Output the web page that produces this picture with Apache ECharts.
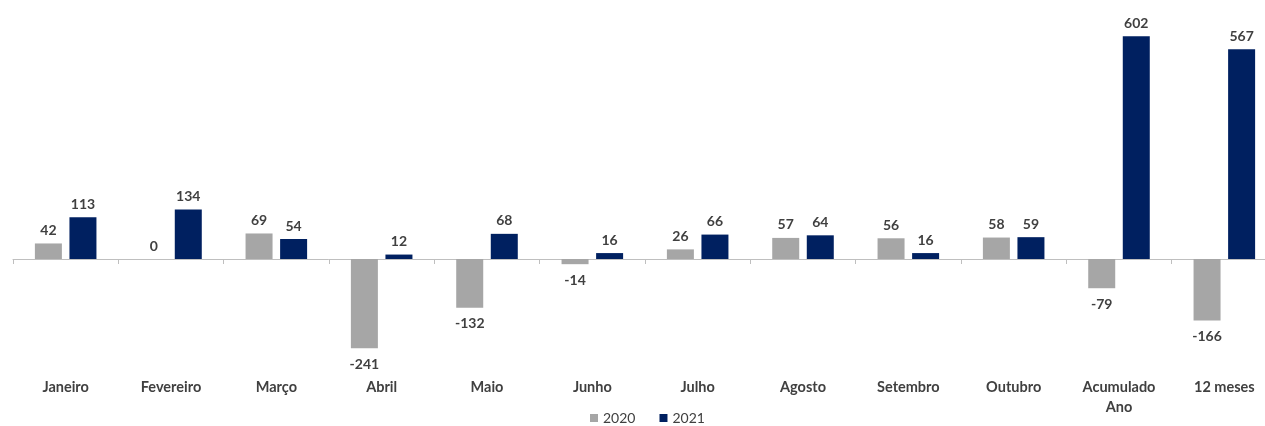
<!DOCTYPE html>
<html>
<head>
<meta charset="utf-8">
<script src="https://cdn.jsdelivr.net/npm/echarts@6/dist/echarts.min.js"></script>
<style>
  html, body { margin: 0; padding: 0; background: #fff; overflow: hidden; }
  #chart { width: 1280px; height: 426px; }
</style>
</head>
<body>
<div id="chart"></div>
<script>
// Monthly values by year, plus year-to-date and 12-month totals
const categories = ['Janeiro', 'Fevereiro', 'Março', 'Abril', 'Maio', 'Junho', 'Julho',
  'Agosto', 'Setembro', 'Outubro', 'Acumulado\nAno', '12 meses'];
const values2020 = [42, 0, 69, -241, -132, -14, 26, 57, 56, 58, -79, -166];
const values2021 = [113, 134, 54, 12, 68, 16, 66, 64, 16, 59, 602, 567];
const seriesNames = ['2020', '2021'];

const FONT = 'Lato, "Open Sans", sans-serif';
const TEXT = '#404040';

function withLabels(vals) {
  return vals.map(v => ({
    value: v,
    label: { position: v < 0 ? 'bottom' : 'top', distance: v < 0 ? 9 : 6 }
  }));
}

const chart = echarts.init(document.getElementById('chart'));
chart.setOption({
  animation: false,
  grid: { left: 13, top: 18.5, width: 1264, height: 351.5 },
  legend: {
    data: seriesNames,
    top: 409,
    left: 588,
    padding: 2,
    itemWidth: 8,
    itemHeight: 8,
    itemGap: 24,
    icon: 'rect',
    textStyle: { fontFamily: FONT, fontSize: 14, color: '#404040' }
  },
  xAxis: [
    {
      type: 'category',
      data: categories,
      axisLine: { onZero: true, lineStyle: { color: '#BFBFBF', width: 1 } },
      axisTick: { show: true, length: 5, lineStyle: { color: '#BFBFBF' } },
      axisLabel: { show: false }
    },
    {
      type: 'category',
      data: categories,
      position: 'bottom',
      axisLine: { show: false, onZero: false },
      axisTick: { show: false },
      axisLabel: {
        margin: 7,
        fontFamily: FONT, fontSize: 14.5, fontWeight: 'bold', color: TEXT,
        lineHeight: 20, interval: 0
      }
    }
  ],
  yAxis: {
    type: 'value',
    min: -300,
    max: 650,
    show: false,
    splitLine: { show: false }
  },
  series: [
    {
      name: seriesNames[0],
      type: 'bar',
      data: withLabels(values2020),
      barWidth: 27,
      barGap: '28%',
      itemStyle: { color: '#A6A6A6' },
      label: {
        show: true,
        fontFamily: FONT, fontSize: 14, fontWeight: 'bold', color: TEXT
      }
    },
    {
      name: seriesNames[1],
      type: 'bar',
      data: withLabels(values2021),
      barWidth: 27,
      barGap: '28%',
      itemStyle: { color: '#002060' },
      label: {
        show: true,
        fontFamily: FONT, fontSize: 14, fontWeight: 'bold', color: TEXT
      }
    }
  ]
});
</script>
</body>
</html>
